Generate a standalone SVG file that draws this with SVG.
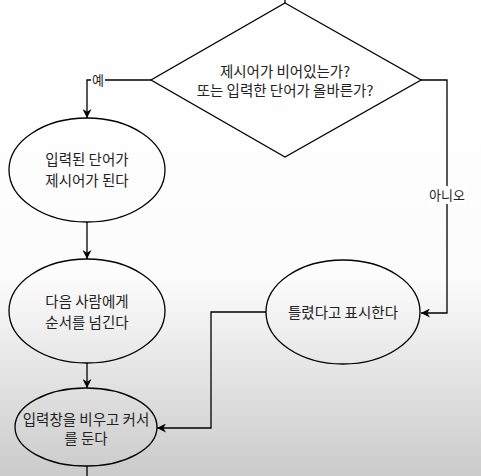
<svg xmlns="http://www.w3.org/2000/svg" width="481" height="476" viewBox="0 0 481 476">
<defs>
<linearGradient id="bg" x1="0" y1="0" x2="0" y2="1">
<stop offset="0" stop-color="#ffffff"/>
<stop offset="0.58" stop-color="#fcfcfc"/>
<stop offset="1" stop-color="#cbcbcb"/>
</linearGradient>
<marker id="arr" viewBox="0 0 10 10" refX="10" refY="5" markerWidth="9" markerHeight="9" markerUnits="userSpaceOnUse" orient="auto">
<path d="M0,0 L10,5 L0,10 L3,5 Z" fill="#000"/>
</marker>
<style>
.shape{fill:none;stroke:#000;stroke-width:1.3}
.edge{fill:none;stroke:#000;stroke-width:1.3}
.t{font-family:"Noto Sans CJK KR","Noto Sans",sans-serif;font-size:14.5px;fill:#222;text-anchor:middle}
.lbl{font-family:"Noto Sans CJK KR","Noto Sans",sans-serif;font-size:13px;fill:#222;text-anchor:middle}
</style>
</defs>
<rect x="0" y="0" width="481" height="476" fill="url(#bg)"/>
<g id="connectors">
<path class="edge" d="M285,0 L285,3"/>
<path class="edge" d="M151,80 L87,80 L87,118" marker-end="url(#arr)"/>
<path class="edge" d="M421,80 L447,80 L447,313 L421,313" marker-end="url(#arr)"/>
<path class="edge" d="M87,222 L87,259" marker-end="url(#arr)"/>
<path class="edge" d="M87,363 L87,388" marker-end="url(#arr)"/>
<path class="edge" d="M266,312 L211,312 L211,428 L157,428" marker-end="url(#arr)"/>
<path class="edge" d="M87,466 L87,476"/>
<rect x="91" y="72" width="14" height="16" fill="#ffffff"/>
<text class="lbl" x="98" y="85" font-size="12">예</text>
<rect x="427" y="186" width="40" height="18" fill="#ffffff"/>
<text class="lbl" x="447" y="200">아니오</text>
</g>
<g id="decision">
<polygon class="shape" points="285,3 421,80 285,157 151,80"/>
<text class="t" x="285" y="77">제시어가 비어있는가?</text>
<text class="t" x="285" y="96">또는 입력한 단어가 올바른가?</text>
</g>
<g id="node-become">
<ellipse class="shape" cx="87" cy="170" rx="78" ry="52"/>
<text class="t" x="87" y="165">입력된 단어가</text>
<text class="t" x="87" y="186">제시어가 된다</text>
</g>
<g id="node-next">
<ellipse class="shape" cx="87" cy="311" rx="78" ry="52"/>
<text class="t" x="87" y="307">다음 사람에게</text>
<text class="t" x="87" y="328">순서를 넘긴다</text>
</g>
<g id="node-clear">
<ellipse class="shape" cx="86" cy="427" rx="71" ry="39"/>
<text class="t" x="86" y="425">입력창을 비우고 커서</text>
<text class="t" x="86" y="444">를 둔다</text>
</g>
<g id="node-wrong">
<ellipse class="shape" cx="343" cy="312" rx="77" ry="52"/>
<text class="t" x="343" y="318">틀렸다고 표시한다</text>
</g>
</svg>
